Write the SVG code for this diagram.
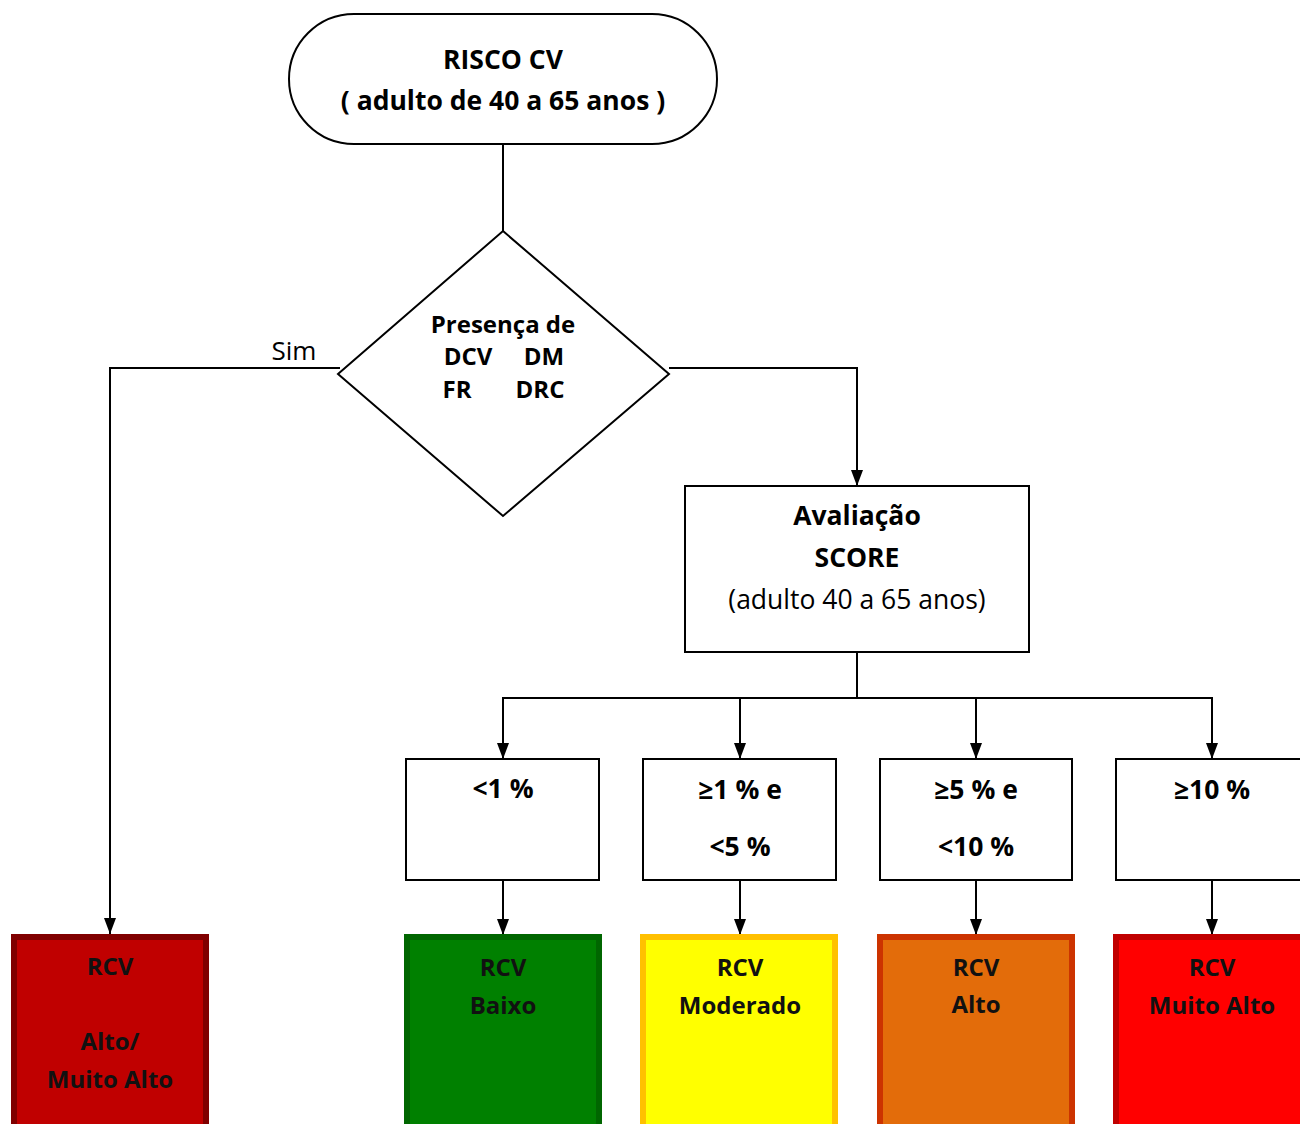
<svg xmlns="http://www.w3.org/2000/svg" width="1300" height="1124" viewBox="0 0 1300 1124">
<style>
text{font-family:"Open Sans","Noto Sans","DejaVu Sans",sans-serif;text-anchor:middle;fill:#000}
.b{font-weight:bold}
.n{fill:#fff;stroke:#000;stroke-width:2}
.c{fill:none;stroke:#000;stroke-width:2}
.r{font-weight:bold;font-size:24px;fill:#111}
.p{font-weight:bold;font-size:26.5px}
</style>
<defs>
<marker id="ah" viewBox="0 0 16 12" refX="16" refY="6" markerWidth="16" markerHeight="12" markerUnits="userSpaceOnUse" orient="auto">
<path d="M0,0 L16,6 L0,12 z" fill="#000"/>
</marker>
</defs>
<g id="connectors">
<path class="c" d="M503,144 V231"/>
<path class="c" d="M340,368 H110 V934" marker-end="url(#ah)"/>
<path class="c" d="M669,368 H857 V486" marker-end="url(#ah)"/>
<path class="c" d="M857,652 V698"/>
<path class="c" d="M502,698 H1213"/>
<path class="c" d="M503,698 V759" marker-end="url(#ah)"/>
<path class="c" d="M740,698 V759" marker-end="url(#ah)"/>
<path class="c" d="M976,698 V759" marker-end="url(#ah)"/>
<path class="c" d="M1212,698 V759" marker-end="url(#ah)"/>
<path class="c" d="M503,880 V935" marker-end="url(#ah)"/>
<path class="c" d="M740,880 V935" marker-end="url(#ah)"/>
<path class="c" d="M976,880 V935" marker-end="url(#ah)"/>
<path class="c" d="M1212,880 V935" marker-end="url(#ah)"/>
<text x="294" y="360" font-size="26">Sim</text>
</g>
<g id="start">
<rect class="n" x="289" y="14" width="428" height="130" rx="65" ry="65"/>
<text class="b" x="503" y="69" font-size="26.5">RISCO CV</text>
<text class="b" x="503" y="110" font-size="26.5">( adulto de 40 a 65 anos )</text>
</g>
<g id="decision">
<polygon class="n" points="503,231 669,374 503,516 338,374"/>
<text class="b" x="503" y="333" font-size="24">Presença de</text>
<text class="b" x="468" y="365" font-size="24">DCV</text>
<text class="b" x="544" y="365" font-size="24">DM</text>
<text class="b" x="457" y="398" font-size="24">FR</text>
<text class="b" x="540" y="398" font-size="24">DRC</text>
</g>
<g id="score">
<rect class="n" x="685" y="486" width="344" height="166"/>
<text class="b" x="857" y="525" font-size="26.5">Avaliação</text>
<text class="b" x="857" y="567" font-size="26.5">SCORE</text>
<text x="857" y="609" font-size="26.5">(adulto 40 a 65 anos)</text>
</g>
<g id="p1">
<rect class="n" x="406" y="759" width="193" height="121"/>
<text class="p" x="503" y="798">&lt;1 %</text>
</g>
<g id="p2">
<rect class="n" x="643" y="759" width="193" height="121"/>
<text class="p" x="740" y="799">≥1 % e</text>
<text class="p" x="740" y="856">&lt;5 %</text>
</g>
<g id="p3">
<rect class="n" x="880" y="759" width="192" height="121"/>
<text class="p" x="976" y="799">≥5 % e</text>
<text class="p" x="976" y="856">&lt;10 %</text>
</g>
<g id="p4">
<rect class="n" x="1116" y="759" width="192" height="121"/>
<text class="p" x="1212" y="799">≥10 %</text>
</g>
<g id="r0">
<rect x="14" y="937" width="192" height="194" fill="#C00000" stroke="#800000" stroke-width="6"/>
<text class="r" x="110" y="975">RCV</text>
<text class="r" x="110" y="1050">Alto/</text>
<text class="r" x="110" y="1088">Muito Alto</text>
</g>
<g id="r1">
<rect x="407" y="937" width="192" height="194" fill="#008000" stroke="#006600" stroke-width="6"/>
<text class="r" x="503" y="976">RCV</text>
<text class="r" x="503" y="1014">Baixo</text>
</g>
<g id="r2">
<rect x="643" y="937" width="192" height="194" fill="#FFFF00" stroke="#FFC000" stroke-width="6"/>
<text class="r" x="740" y="976">RCV</text>
<text class="r" x="740" y="1014">Moderado</text>
</g>
<g id="r3">
<rect x="880" y="937" width="192" height="194" fill="#E36C0A" stroke="#CC3300" stroke-width="6"/>
<text class="r" x="976" y="976">RCV</text>
<text class="r" x="976" y="1013">Alto</text>
</g>
<g id="r4">
<rect x="1116" y="937" width="192" height="194" fill="#FF0000" stroke="#C00000" stroke-width="6"/>
<text class="r" x="1212" y="976">RCV</text>
<text class="r" x="1212" y="1014">Muito Alto</text>
</g>
</svg>
